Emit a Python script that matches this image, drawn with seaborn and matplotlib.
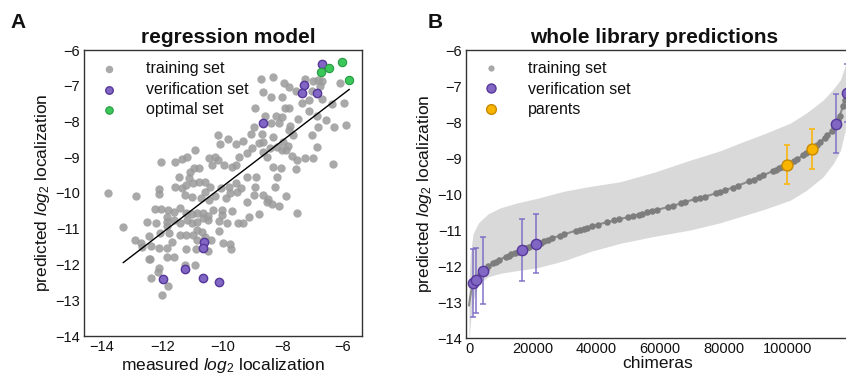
import numpy as np
import pandas as pd
import matplotlib
matplotlib.use("Agg")
import matplotlib.pyplot as plt
import seaborn as sns
from matplotlib.lines import Line2D

# ---------------- Panel A data (measured vs predicted log2 localization) ----------------
train_x = [-8.72, -8.31, -7.95, -7.78, -8.66, -8.39, -8.03, -7.55, -7.24, -6.98, -6.81, -6.69, -6.76,
           -7.01, -7.11, -7.34, -7.78, -7.93, -8.03, -8.91, -8.22, -8.57, -8.40, -8.12, -7.75, -7.80,
           -7.50, -7.12, -6.87, -6.68, -6.57, -6.35, -6.10, -5.95, -5.90, -6.29, -6.82, -7.01, -6.87,
           -7.64, -7.99, -7.81, -8.33, -8.68, -8.94, -9.04, -9.33, -9.54, -9.82, -10.14, -10.07, -10.23,
           -10.46, -10.91, -11.17, -11.35, -11.57, -12.03, -10.78, -10.95, -11.08, -11.10, -11.44, -11.57,
           -11.21, -10.97, -10.78, -10.58, -10.33, -10.14, -9.95, -9.69, -9.54, -9.45, -9.17, -9.03,
           -8.78, -8.66, -8.53, -8.66, -8.43, -8.20, -8.02, -7.87, -7.68, -7.52, -7.27, -6.98, -6.31,
           -8.33, -8.04, -7.57, -8.20, -8.88, -9.18, -9.54, -9.79, -10.05, -10.42, -10.57, -10.72,
           -11.02, -11.23, -11.35, -12.12, -12.11, -12.88, -13.79, -8.95, -8.66, -8.50, -7.89, -8.25,
           -8.93, -9.39, -9.53, -9.75, -9.88, -10.23, -10.45,
           -12.24, -12.04, -11.82, -11.60, -11.41, -11.21, -11.02, -10.83, -10.66, -10.47, -10.30,
           -10.00, -10.00, -9.69, -9.47, -9.30, -9.11, -8.78, -8.53, -8.36, -8.12, -7.53, -9.17,
           -11.85, -11.85, -11.60, -11.41, -11.19, -11.02, -10.85, -10.63, -10.47, -10.10, -9.86,
           -13.30, -12.49, -12.21, -11.85, -11.76, -12.07, -12.45, -12.70, -12.90, -12.66, -12.38,
           -12.10, -11.83, -11.67, -11.41, -11.21, -10.99, -10.85, -10.67, -10.57, -10.85, -10.39,
           -10.12, -9.99, -9.76, -9.73, -11.21, -10.87, -10.48, -12.45, -12.39, -11.83, -11.60,
           -11.24, -10.91, -12.11, -12.14, -12.37, -11.80, -12.02]
train_y = [-6.81, -6.76, -6.91, -7.03, -7.18, -7.31, -7.32, -7.14, -6.81, -6.86, -6.84, -6.86, -7.01,
           -7.14, -7.40, -7.49, -7.63, -7.63, -7.88, -7.63, -7.85, -7.86, -8.05, -8.05, -8.13, -8.24,
           -7.94, -7.71, -7.86, -7.38, -7.96, -7.52, -6.93, -7.49, -8.10, -8.14, -8.16, -8.38, -8.70,
           -8.38, -8.56, -8.69, -8.42, -8.36, -8.14, -8.35, -8.54, -8.63, -8.50, -8.38, -8.63, -8.98,
           -9.01, -8.80, -8.98, -9.05, -9.14, -9.14, -9.31, -9.31, -9.40, -9.59, -9.54, -9.82,
           -9.79, -9.73, -9.68, -9.68, -9.22, -9.08, -9.22, -9.26, -9.22, -8.98, -8.89, -8.75,
           -8.61, -8.84, -8.98, -8.56, -8.73, -8.72, -8.80, -8.80, -8.97, -9.08, -9.02, -9.02, -9.19,
           -9.26, -9.31, -9.34, -9.54, -9.56, -9.54, -9.73, -9.82, -9.87, -9.83, -9.96, -10.15,
           -10.10, -10.06, -9.87, -9.89, -10.04, -10.07, -10.00, -10.06, -10.06, -10.18, -10.07, -9.82,
           -9.82, -9.87, -9.96, -10.01, -10.15, -10.07, -10.20,
           -10.46, -10.46, -10.48, -10.54, -10.43, -10.57, -10.59, -10.57, -10.55, -10.63, -10.48,
           -10.48, -10.61, -10.50, -10.85, -10.83, -10.68, -10.59, -10.24, -10.31, -10.36, -10.57, -10.24,
           -10.66, -10.80, -10.76, -10.85, -10.76, -10.85, -10.80, -10.71, -10.76, -10.77, -10.85,
           -10.94, -10.82, -10.83, -10.92, -11.13, -11.13, -11.19, -11.41, -11.31, -11.50, -11.48,
           -11.53, -11.53, -11.36, -11.17, -11.17, -11.17, -11.03, -11.10, -11.24, -11.31, -11.31,
           -11.05, -11.41, -11.44, -11.58, -11.57, -11.57, -11.62, -11.84, -11.85, -11.80, -11.80,
           -12.01, -12.01, -12.11, -12.20, -12.37, -12.60, -12.84]
verif_x = [-10.62, -10.64, -11.23, -11.98, -10.64, -10.10, -8.65, -6.70, -7.29, -7.37, -6.86]
verif_y = [-11.38, -11.55, -12.13, -12.40, -12.38, -12.50, -8.05, -6.39, -6.98, -7.19, -7.19]
optimal_x = [-6.04, -6.45, -6.72, -5.79]
optimal_y = [-6.33, -6.51, -6.62, -6.84]
fit_x = [-13.30, -5.78]
fit_y = [-11.95, -7.10]

# ---------------- Panel B data (whole library predictions) ----------------
curve_x = [0, 300, 700, 1300, 2100, 3000, 4400, 7000, 10700, 16600, 21100, 27000, 32400, 42200,
           52800, 60000, 65100, 69500, 75800, 81000, 86200, 94000, 99900, 104000, 107800, 111000,
           113500, 115400, 117000, 118500, 119500]
curve_y = [-13.1, -12.9, -12.7, -12.5, -12.38, -12.27, -12.13, -11.95, -11.78, -11.56, -11.39, -11.2,
           -11.05, -10.81, -10.58, -10.42, -10.3, -10.18, -10.03, -9.88, -9.71, -9.42, -9.19, -8.98,
           -8.76, -8.5, -8.3, -8.06, -7.7, -7.2, -6.7]
band_x = [0, 400, 1300, 3000, 6000, 10000, 15000, 21400, 30000, 38000, 47500, 58000, 69500, 78900,
          85200, 93000, 101000, 106000, 111300, 114500, 116700, 118500, 119500]
band_lo = [-14.1, -13.6, -12.95, -12.5, -12.3, -12.2, -12.13, -12.05, -11.85, -11.6, -11.37, -11.18,
           -11.0, -10.8, -10.63, -10.42, -10.17, -9.9, -9.52, -9.15, -8.8, -8.13, -7.6]
band_hi = [-12.4, -11.7, -11.1, -10.8, -10.55, -10.38, -10.25, -10.12, -9.92, -9.79, -9.66, -9.4,
           -9.06, -8.8, -8.58, -8.32, -8.03, -7.75, -7.39, -7.08, -6.83, -6.36, -6.0]
btrain_x = [1800, 2600, 3500, 5200, 6000, 7500, 8500, 9500, 11500, 12500, 13300, 14500, 15500, 18000,
            19000, 20000, 22500, 23500, 24800, 26000, 28500, 30000, 33500, 35000, 36200, 37000, 38500,
            40500, 43500, 45500, 47000, 50000, 51500, 53500, 54500, 56000, 57500, 59000, 62500, 64000,
            66500, 68000, 71000, 72500, 74000, 77500, 79000, 80500, 83000, 84500, 88000, 89500, 91000,
            92500, 95500, 96500, 97500, 98500, 101000, 102000, 103000, 105000, 106000, 107000, 108500,
            109500, 110300, 111800, 112600, 114000, 114700, 116000, 116500, 117500, 118000]
btrain_y = [-12.42, -12.32, -12.22, -12.07, -12.01, -11.93, -11.88, -11.83, -11.75, -11.71, -11.68,
            -11.64, -11.60, -11.51, -11.47, -11.43, -11.35, -11.31, -11.27, -11.23, -11.16, -11.12,
            -11.02, -10.99, -10.96, -10.94, -10.90, -10.85, -10.78, -10.73, -10.70, -10.64, -10.61,
            -10.57, -10.55, -10.51, -10.48, -10.44, -10.36, -10.33, -10.26, -10.22, -10.15, -10.11,
            -10.07, -9.98, -9.94, -9.89, -9.82, -9.77, -9.65, -9.60, -9.54, -9.48, -9.37, -9.33, -9.29,
            -9.25, -9.13, -9.08, -9.03, -8.93, -8.87, -8.81, -8.71, -8.64, -8.56, -8.44, -8.37, -8.24,
            -8.15, -7.95, -7.82, -7.55, -7.38]
bverif_x = [1360, 2100, 4500, 16600, 21200, 115400, 118700]
bverif_y = [-12.48, -12.39, -12.13, -11.56, -11.39, -8.06, -7.2]
bverif_lo = [-13.43, -13.30, -13.06, -12.41, -12.20, -8.87, -8.0]
bverif_hi = [-11.54, -11.51, -11.20, -10.69, -10.56, -7.23, -6.4]
parent_x = [99900, 107800]
parent_y = [-9.19, -8.76]
parent_lo = [-9.72, -9.31]
parent_hi = [-8.64, -8.20]

# ---------------- Style ----------------
sns.set_theme(style="white")
plt.rcParams["font.family"] = ["Liberation Sans", "DejaVu Sans"]
plt.rcParams["mathtext.fontset"] = "custom"
plt.rcParams["mathtext.rm"] = "Liberation Sans"
plt.rcParams["mathtext.it"] = "Liberation Sans:italic"
plt.rcParams["axes.edgecolor"] = "#333333"
plt.rcParams["axes.linewidth"] = 1.0
plt.rcParams["text.color"] = "#111111"
plt.rcParams["axes.labelcolor"] = "#111111"
plt.rcParams["xtick.color"] = "#111111"
plt.rcParams["ytick.color"] = "#111111"

GRAY = "#9a9a9a"
DGRAY = "#7d7d7d"
PURPLE = "#8266c4"
PURPLE_E = "#56379a"
GREEN = "#3cc75a"
GREEN_E = "#279a42"
ORANGE = "#f7b500"
ORANGE_E = "#c98a00"

fig = plt.figure(figsize=(8.46, 3.75), dpi=100)
axA = fig.add_axes([84 / 846, 1 - 336 / 375, (362 - 84) / 846, (336 - 50) / 375])
axB = fig.add_axes([466 / 846, 1 - 338 / 375, (849 - 466) / 846, (338 - 50) / 375])

# ---------------- Panel A ----------------
dfA = pd.DataFrame({
    "measured": train_x + verif_x + optimal_x,
    "predicted": train_y + verif_y + optimal_y,
    "set": ["training set"] * len(train_x) + ["verification set"] * len(verif_x)
           + ["optimal set"] * len(optimal_x),
})
sns.scatterplot(data=dfA[dfA["set"] == "training set"], x="measured", y="predicted",
                color=GRAY, s=36, alpha=0.85, linewidth=0, ax=axA, label="training set")
sns.lineplot(x=fit_x, y=fit_y, color="black", linewidth=1.0, ax=axA, legend=False)
sns.scatterplot(data=dfA[dfA["set"] == "verification set"], x="measured", y="predicted",
                color=PURPLE, edgecolor=PURPLE_E, linewidth=1.0, s=36, ax=axA, label="verification set")
sns.scatterplot(data=dfA[dfA["set"] == "optimal set"], x="measured", y="predicted",
                color=GREEN, edgecolor=GREEN_E, linewidth=0.8, s=36, ax=axA, label="optimal set")
axA.set_xlim(-14.6, -5.36)
axA.set_ylim(-14, -6)
axA.set_xticks([-14, -12, -10, -8, -6])
axA.set_yticks(range(-14, -5))
axA.set_xlabel(r"measured $\mathit{log}_2$ localization", fontsize=12.5, labelpad=1)
axA.set_ylabel(r"predicted $\mathit{log}_2$ localization", fontsize=12.5, labelpad=2)
axA.set_title("regression model", fontsize=15, fontweight="bold", pad=5, x=0.52)
axA.tick_params(labelsize=10.5, length=0, pad=3)
axA.legend(loc="upper left", frameon=False, fontsize=11.5, handletextpad=1.5,
           labelspacing=0.35, borderaxespad=0.3, markerscale=0.9, handlelength=1.7)

# ---------------- Panel B ----------------
axB.fill_between(band_x, band_lo, band_hi, color="#d9d9d9", linewidth=0, zorder=1)
sns.lineplot(x=curve_x, y=curve_y, color="#8c8c8c", linewidth=1.5, ax=axB, legend=False, zorder=2)
sns.scatterplot(x=btrain_x, y=btrain_y, color=DGRAY, s=22, linewidth=0, ax=axB, zorder=3)
bv_y = np.array(bverif_y)
axB.errorbar(bverif_x, bverif_y, yerr=[bv_y - np.array(bverif_lo), np.array(bverif_hi) - bv_y],
             fmt="none", ecolor="#7a68c4", elinewidth=1.2, capsize=2.5, capthick=1.2, alpha=0.85, zorder=4)
p_y = np.array(parent_y)
axB.errorbar(parent_x, parent_y, yerr=[p_y - np.array(parent_lo), np.array(parent_hi) - p_y],
             fmt="none", ecolor="#f5bb2a", elinewidth=1.4, capsize=2.5, capthick=1.4, zorder=4)
sns.scatterplot(x=bverif_x, y=bverif_y, color=PURPLE, edgecolor=PURPLE_E, linewidth=1.0, s=55,
                ax=axB, zorder=5)
sns.scatterplot(x=parent_x, y=parent_y, color=ORANGE, edgecolor=ORANGE_E, linewidth=1.0, s=62,
                ax=axB, zorder=5)
axB.set_xlim(-943, 119400)
axB.set_ylim(-14, -6)
axB.set_xticks([0, 20000, 40000, 60000, 80000, 100000])
axB.set_yticks(range(-14, -5))
axB.set_xlabel("chimeras", fontsize=12.5, labelpad=0)
axB.set_ylabel(r"predicted $\mathit{log}_2$ localization", fontsize=12.5, labelpad=2)
axB.set_title("whole library predictions", fontsize=15, fontweight="bold", pad=5, x=0.49)
axB.tick_params(labelsize=10.5, length=0, pad=3)
handles = [
    Line2D([], [], marker="o", linestyle="none", color="#a8a8a8", markersize=4.5, markeredgewidth=0),
    Line2D([], [], marker="o", linestyle="none", markerfacecolor=PURPLE, markeredgecolor=PURPLE_E,
           markersize=6.5, markeredgewidth=1.0),
    Line2D([], [], marker="o", linestyle="none", markerfacecolor=ORANGE, markeredgecolor=ORANGE_E,
           markersize=7, markeredgewidth=1.0),
]
axB.legend(handles, ["training set", "verification set", "parents"], loc="upper left",
           frameon=False, fontsize=11.5, handletextpad=1.5, labelspacing=0.35,
           borderaxespad=0.3, handlelength=1.7)

fig.text(10 / 846, 1 - 22 / 375, "A", fontsize=15, fontweight="bold", va="center", ha="left")
fig.text(428 / 846, 1 - 22 / 375, "B", fontsize=15, fontweight="bold", va="center", ha="left")

fig.savefig("out.png", dpi=100)
